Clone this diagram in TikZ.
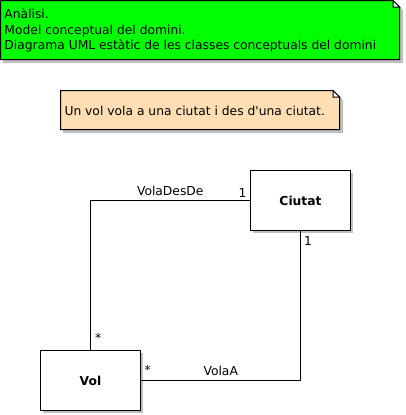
\documentclass[tikz,border=0pt]{standalone}
\usepackage{fontspec}
\setmainfont{DejaVu Sans}
\usetikzlibrary{positioning}

\definecolor{notegreen}{RGB}{0,255,0}
\definecolor{notepeach}{RGB}{255,222,179}
\definecolor{shadowgray}{RGB}{192,192,192}

\begin{document}
\begin{tikzpicture}[x=1pt, y=-1pt, line width=1pt,
    every node/.style={font=\fontsize{12.3}{15.3}\selectfont, inner sep=0pt},
    classbox/.style={draw, fill=white, minimum width=100pt, minimum height=60pt, font=\fontsize{12.3}{15.3}\selectfont\bfseries},
    notetext/.style={align=left, anchor=west}]
    \useasboundingbox (0,0) rectangle (405,415);
    % top note
    \fill [shadowgray] (3,3) -- (396,3) -- (403,10) -- (403,63) -- (3,63) -- cycle;
    \draw [fill=notegreen] (0.5,0.5) -- (393,0.5) -- (399.5,7) -- (399.5,59.5) -- (0.5,59.5) -- cycle;
    \draw [fill=white] (393,0.5) -- (393,7) -- (399.5,7) -- cycle;
    \node (analisi) [notetext] at (4,30.5) {Anàlisi.\\Model conceptual del domini.\\Diagrama UML estàtic de les classes conceptuals del domini};
    % second note
    \fill [shadowgray] (63,93) -- (336,93) -- (343,100) -- (343,133) -- (63,133) -- cycle;
    \draw [fill=notepeach] (60.5,90.5) -- (333,90.5) -- (339.5,97) -- (339.5,129.5) -- (60.5,129.5) -- cycle;
    \draw [fill=white] (333,90.5) -- (333,97) -- (339.5,97) -- cycle;
    \node (vola) [notetext] at (64,110.5) {Un vol vola a una ciutat i des d\textquotesingle una ciutat.};
    % classes
    \fill [shadowgray] (253,173) rectangle ++(100,60);
    \fill [shadowgray] (43,353) rectangle ++(100,60);
    \node (ciutat) [classbox] at (300.5,200.5) {Ciutat};
    \node (vol) [classbox] at (90.5,380.5) {Vol};
    % associations
    \draw (ciutat.west) -| (vol.north)
      node [pos=0.25, above=4pt] {VolaDesDe}
      node [pos=0, above left=3pt and 3pt] {1}
      node [pos=1, above right=7pt and 4pt] {*};
    \draw (vol.east) -| (ciutat.south)
      node [pos=0.25, above=4pt] {VolaA}
      node [pos=0, above right=6pt and 3pt] {*}
      node [pos=1, below right=5pt and 3pt] {1};
\end{tikzpicture}
\end{document}
